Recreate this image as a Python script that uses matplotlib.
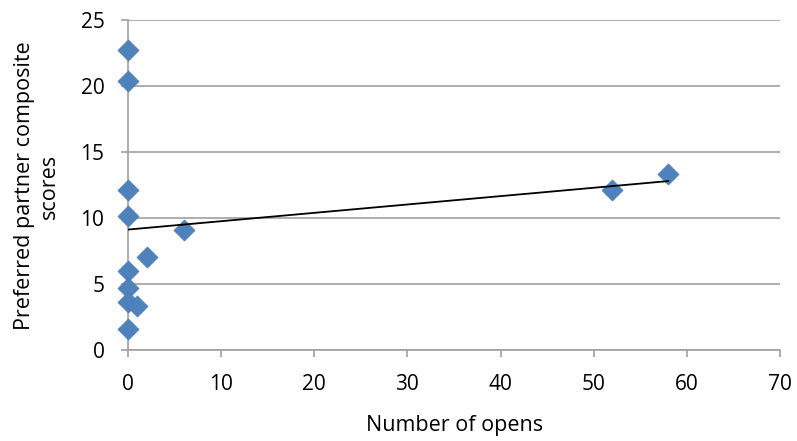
import numpy as np
import matplotlib
matplotlib.use("Agg")
import matplotlib.pyplot as plt
from matplotlib.ticker import MultipleLocator

opens = [0, 0, 0, 0, 0, 0, 0, 0, 1, 2, 6, 52, 58]
scores = [22.7, 20.4, 12.1, 10.15, 6.0, 4.7, 3.6, 1.6, 3.35, 7.05, 9.1, 12.1, 13.3]

plt.rcParams['font.family'] = ['Open Sans', 'DejaVu Sans']
fig = plt.figure(figsize=(7.97, 4.41), dpi=100)
ax = fig.add_axes([128 / 797, 1 - 350 / 441, (780 - 128) / 797, 330 / 441])

gc = '#a0a0a0'
ax.set_xlim(0, 70)
ax.set_ylim(0, 25)
ax.yaxis.set_major_locator(MultipleLocator(5))
ax.xaxis.set_major_locator(MultipleLocator(10))
ax.grid(axis='y', color=gc, linewidth=1.2)
ax.set_axisbelow(True)
for s in ['top', 'right']:
    ax.spines[s].set_visible(False)
for s in ['left', 'bottom']:
    ax.spines[s].set_color(gc)
    ax.spines[s].set_linewidth(1.2)
ax.tick_params(axis='both', color=gc, width=1.2, length=5, labelsize=15, direction='out', labelcolor='black')
ax.tick_params(axis='x', pad=12)
ax.tick_params(axis='y', pad=12)

ax.scatter(opens, scores, marker='D', s=115, color='#4f81bd', edgecolors='#4a7ab5', linewidths=0.5, zorder=3, clip_on=False)
m, b = np.polyfit(opens, scores, 1)
xs = np.array([min(opens), max(opens)])
ax.plot(xs, m * xs + b, color='black', linewidth=1.3, zorder=4)

fig.text(455 / 797, 1 - 425 / 441, 'Number of opens', fontsize=15.5, ha='center', va='center')
fig.text(37 / 797, 1 - 186 / 441, 'Preferred partner composite\nscores', fontsize=15.5,
         rotation=90, ha='center', va='center', multialignment='center', linespacing=1.25)
fig.savefig('out.png', dpi=100)
